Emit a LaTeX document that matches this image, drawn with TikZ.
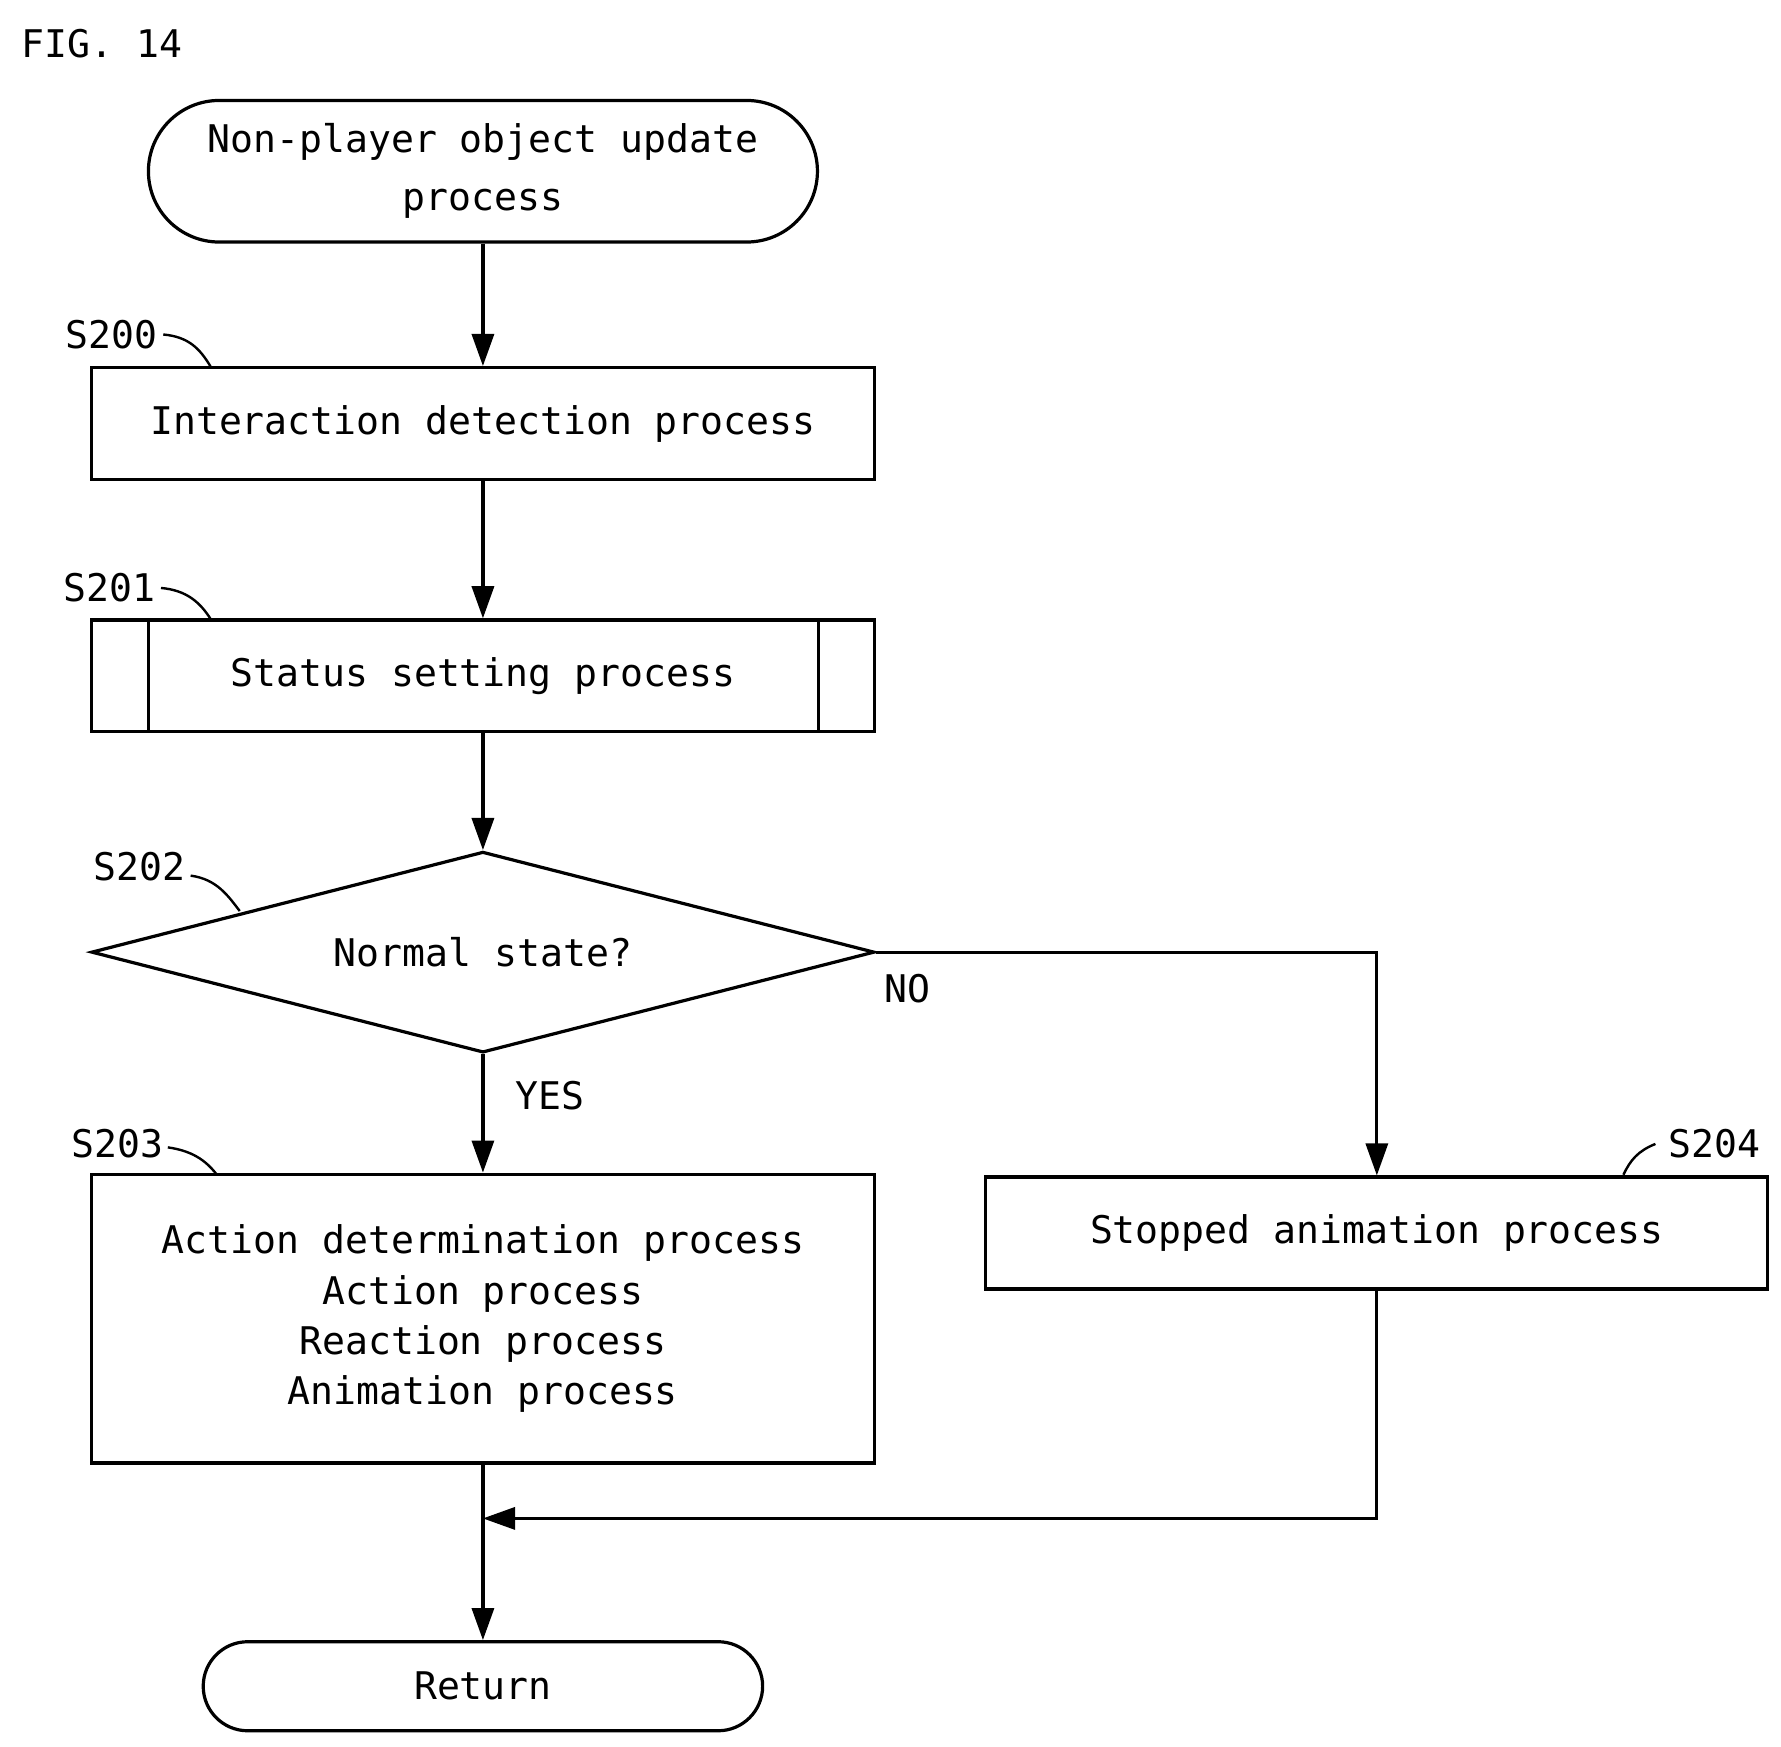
\documentclass[tikz,border=0pt]{standalone}
\usepackage{fontspec}
\setmainfont{DejaVu Sans Mono}
\usetikzlibrary{shapes.geometric,arrows.meta}
\begin{document}
\begin{tikzpicture}[x=0.02cm,y=-0.02cm,line width=1.6pt,
  every node/.style={font=\fontsize{19}{29}\selectfont},
  box/.style={draw,rectangle,minimum width=686*0.02cm,minimum height=98*0.02cm,align=center},
  arr/.style={-{Triangle[length=16pt,width=11pt]}},
  lbl/.style={font=\fontsize{19}{22}\selectfont}]
\useasboundingbox (0,0) rectangle (1560,1530);
\node[anchor=west] (fig) at (12,38) {FIG. 14};
\node[draw,rounded corners=31*0.02cm*2,minimum width=586*0.02cm,minimum height=124*0.02cm,align=center] (start) at (423,150) {Non-player object update\\process};
\node[box] (s200) at (423,371) {Interaction detection process};
\node[box] (s201) at (423,592) {Status setting process};
\draw (130,543) -- (130,641) (717,543) -- (717,641);
\node[draw,diamond,aspect=3.9,minimum width=686*0.02cm,minimum height=176*0.02cm,inner sep=0] (s202) at (423,834) {Normal state?};
\node[box,minimum height=253*0.02cm,font=\fontsize{19}{25}\selectfont] (s203) at (423,1155) {Action determination process\\Action process\\Reaction process\\Animation process};
\node[box,minimum width=685*0.02cm] (s204) at (1206,1080) {Stopped animation process};
\node[draw,rounded corners=39*0.02cm,minimum width=490*0.02cm,minimum height=78*0.02cm] (ret) at (423,1477) {Return};
\coordinate (m) at (423,1330);
\coordinate (n) at (1206,834);
\draw[arr] (start) -- (s200);
\draw[arr] (s200) -- (s201);
\draw[arr] (s201) -- (s202);
\draw[arr] (s202) -- node[pos=0.35,right,lbl,xshift=12pt] (yes) {YES} (s203);
\draw[arr] (s202.east) -- (n) -- (s204);
\node[lbl] (no) at (795,866) {NO};
\draw (s203) -- (m);
\draw[arr] (s204) |- (m);
\draw[arr] (m) -- (ret);
\node[lbl] (l200) at (98,293) {S200};
\node[lbl] (l201) at (96,515) {S201};
\node[lbl] (l202) at (122,759) {S202};
\node[lbl] (l203) at (103,1002) {S203};
\node[lbl] (l204) at (1502,1002) {S204};
\draw[line width=1.2pt] (143,293) .. controls (165,295) and (175,305) .. (185,322);
\draw[line width=1.2pt] (141,515) .. controls (163,517) and (175,527) .. (185,543);
\draw[line width=1.2pt] (167,767) .. controls (190,770) and (200,785) .. (210,798);
\draw[line width=1.2pt] (147,1005) .. controls (168,1008) and (180,1016) .. (190,1029);
\draw[line width=1.2pt] (1450,1002) .. controls (1435,1008) and (1428,1016) .. (1422,1029);
\end{tikzpicture}
\end{document}
